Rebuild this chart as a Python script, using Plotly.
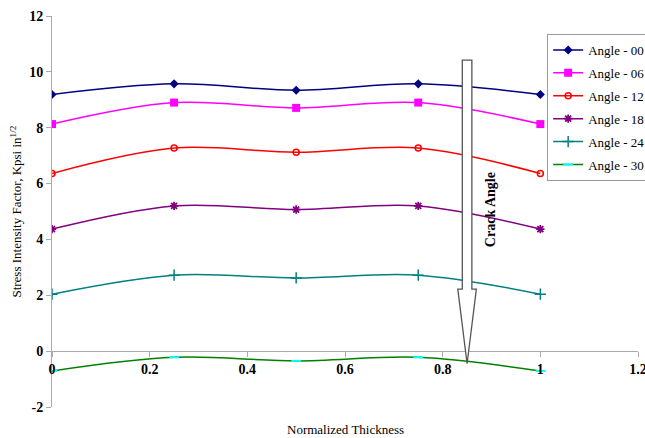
import plotly.graph_objects as go

thickness = [0, 0.25, 0.5, 0.75, 1]
angle_00 = [9.19, 9.57, 9.34, 9.57, 9.19]
angle_06 = [8.13, 8.90, 8.71, 8.90, 8.13]
angle_12 = [6.36, 7.27, 7.12, 7.27, 6.36]
angle_18 = [4.37, 5.20, 5.07, 5.20, 4.37]
angle_24 = [2.04, 2.72, 2.62, 2.72, 2.04]
angle_30 = [-0.71, -0.22, -0.35, -0.22, -0.71]
names = ["Angle - 00", "Angle - 06", "Angle - 12", "Angle - 18", "Angle - 24", "Angle - 30"]
x_ticks = [0, 0.2, 0.4, 0.6, 0.8, 1, 1.2]
y_ticks = [-2, 0, 2, 4, 6, 8, 10, 12]

series = [angle_00, angle_06, angle_12, angle_18, angle_24, angle_30]
line_colors = ["#000080", "#FF00FF", "#FF0000", "#800080", "#008080", "#008000"]
marker_styles = [
    dict(symbol="diamond", size=7, color="#000080"),
    dict(symbol="square", size=8, color="#FF00FF"),
    dict(symbol="circle-open", size=6, color="#FF0000", line=dict(width=1.5, color="#FF0000")),
    dict(symbol="asterisk-open", size=7, color="#800080", line=dict(width=1.8, color="#800080")),
    dict(symbol="cross-thin-open", size=8, color="#008080", line=dict(width=1.5, color="#008080")),
    dict(symbol="line-ew-open", size=7, color="#00FFFF", line=dict(width=2, color="#00FFFF")),
]

FONT = "Liberation Serif"

fig = go.Figure()
for i, (nm, ys) in enumerate(zip(names, series)):
    fig.add_trace(go.Scatter(
        x=thickness, y=ys, name=nm, mode="lines+markers",
        line=dict(color=line_colors[i], width=1.5, shape="spline", smoothing=1),
        marker=marker_styles[i], legendgroup=nm,
    ))

# Crack angle arrow (hollow, white fill)
cx, sw, hw = 0.85, 0.0098, 0.019
top, shoulder, tip = 10.42, 2.22, -0.45
path = (f"M {cx-sw},{top} L {cx+sw},{top} L {cx+sw},{shoulder} L {cx+hw},{shoulder} "
        f"L {cx},{tip} L {cx-hw},{shoulder} L {cx-sw},{shoulder} Z")
fig.add_shape(type="path", path=path, xref="x", yref="y",
              fillcolor="white", line=dict(color="#555555", width=1.3), layer="above")
fig.add_annotation(x=0.897, y=5.05, xref="x", yref="y", text="<b>Crack Angle</b>",
                   textangle=-90, showarrow=False, font=dict(family=FONT, size=14, color="black"))

fig.add_annotation(x=0.5, y=-0.058, xref="paper", yref="paper", yanchor="middle",
                   text="Normalized Thickness", showarrow=False,
                   font=dict(family=FONT, size=13, color="black"))
fig.add_annotation(x=-0.063, y=0.5, xref="paper", yref="paper", xanchor="center",
                   text="Stress Intensity Factor, Kpsi in<sup>1/2</sup>", textangle=-90,
                   showarrow=False, font=dict(family=FONT, size=13, color="black"))

fig.update_layout(
    width=645, height=438,
    margin=dict(l=52, r=7, t=16, b=31, autoexpand=False),
    paper_bgcolor="white", plot_bgcolor="white",
    font=dict(family=FONT, size=13, color="black"),
    showlegend=True,
    legend=dict(x=0.845, y=0.954, xanchor="left", yanchor="top",
                bgcolor="white", bordercolor="#999999", borderwidth=1,
                font=dict(family=FONT, size=13, color="black"),
                itemwidth=30, tracegroupgap=3, traceorder="grouped"),
    xaxis=dict(range=[0, 1.2], tickvals=x_ticks, ticktext=[f"<b>{v:g}</b>" for v in x_ticks],
               showgrid=False, zeroline=False, showline=True, linecolor="#AAAAAA", linewidth=1,
               ticks="outside", ticklen=5, tickcolor="#AAAAAA",
               anchor="free", position=2/14, ticklabeloverflow="allow",
               tickfont=dict(family=FONT, size=14, color="black")),
    yaxis=dict(range=[-2, 12], tickvals=y_ticks, ticktext=[f"<b>{v:g}</b>" for v in y_ticks],
               showgrid=False, zeroline=False, showline=True, linecolor="#AAAAAA", linewidth=1,
               ticks="outside", ticklen=5, tickcolor="#AAAAAA",
               tickfont=dict(family=FONT, size=14, color="black")),
)

fig.write_html("out.html")
